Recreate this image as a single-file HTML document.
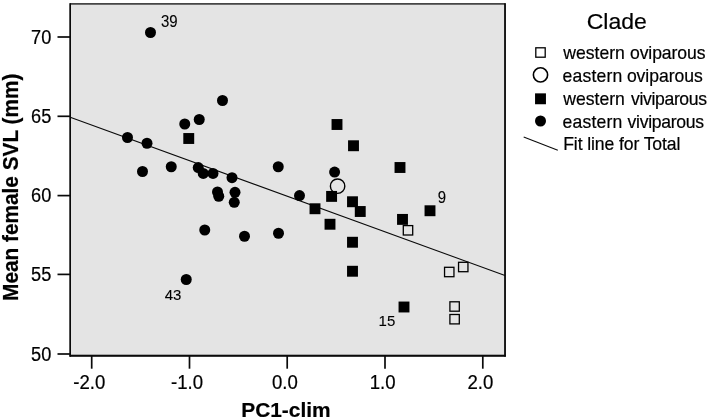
<!DOCTYPE html>
<html><head><meta charset="utf-8"><title>chart</title>
<style>
html,body{margin:0;padding:0;background:#fff;}
body{width:708px;height:420px;overflow:hidden;}
svg{display:block;will-change:transform;}
text{font-family:"Liberation Sans",sans-serif;fill:#000;stroke:#000;stroke-width:0.2px;}
.tk{font-size:18.6px;}
.lb{font-size:15px;stroke-width:0.1px;}
.lg{font-size:17.6px;}
.cl{font-size:23px;}
.ti{font-size:20.9px;font-weight:bold;}
</style></head><body>
<svg width="708" height="420" viewBox="0 0 708 420">
<rect x="0" y="0" width="708" height="420" fill="#fff"/>
<rect x="70.25" y="3.9" width="434.85" height="351.7" fill="#e4e4e4" stroke="#0a0a0a" stroke-width="1.3"/>
<line x1="69.5" y1="355.75" x2="505.85" y2="355.75" stroke="#0a0a0a" stroke-width="1.9"/>
<line x1="505.0" y1="3.3" x2="505.0" y2="356.7" stroke="#0a0a0a" stroke-width="1.5"/>
<line x1="70.25" y1="3.3" x2="70.25" y2="356.7" stroke="#0a0a0a" stroke-width="1.5"/>
<line x1="57.5" y1="37.0" x2="70" y2="37.0" stroke="#0a0a0a" stroke-width="1.7"/>
<text class="tk" style="font-size:18.2px" transform="translate(51.3,43.5) scale(1,1.08)" text-anchor="end">70</text>
<line x1="57.5" y1="116.3" x2="70" y2="116.3" stroke="#0a0a0a" stroke-width="1.7"/>
<text class="tk" style="font-size:18.2px" transform="translate(51.3,122.8) scale(1,1.08)" text-anchor="end">65</text>
<line x1="57.5" y1="195.6" x2="70" y2="195.6" stroke="#0a0a0a" stroke-width="1.7"/>
<text class="tk" style="font-size:18.2px" transform="translate(51.3,202.1) scale(1,1.08)" text-anchor="end">60</text>
<line x1="57.5" y1="274.4" x2="70" y2="274.4" stroke="#0a0a0a" stroke-width="1.7"/>
<text class="tk" style="font-size:18.2px" transform="translate(51.3,280.9) scale(1,1.08)" text-anchor="end">55</text>
<line x1="57.5" y1="354.0" x2="70" y2="354.0" stroke="#0a0a0a" stroke-width="1.7"/>
<text class="tk" style="font-size:18.2px" transform="translate(51.3,360.5) scale(1,1.08)" text-anchor="end">50</text>
<line x1="91.7" y1="355.5" x2="91.7" y2="368.7" stroke="#0a0a0a" stroke-width="1.7"/>
<text class="tk" transform="translate(89.3,388.7) scale(1,1.06)" text-anchor="middle">-2.0</text>
<line x1="189.5" y1="355.5" x2="189.5" y2="368.7" stroke="#0a0a0a" stroke-width="1.7"/>
<text class="tk" transform="translate(187.1,388.7) scale(1,1.06)" text-anchor="middle">-1.0</text>
<line x1="287.2" y1="355.5" x2="287.2" y2="368.7" stroke="#0a0a0a" stroke-width="1.7"/>
<text class="tk" transform="translate(284.8,388.7) scale(1,1.06)" text-anchor="middle">0.0</text>
<line x1="385.0" y1="355.5" x2="385.0" y2="368.7" stroke="#0a0a0a" stroke-width="1.7"/>
<text class="tk" transform="translate(382.6,388.7) scale(1,1.06)" text-anchor="middle">1.0</text>
<line x1="482.8" y1="355.5" x2="482.8" y2="368.7" stroke="#0a0a0a" stroke-width="1.7"/>
<text class="tk" transform="translate(480.4,388.7) scale(1,1.06)" text-anchor="middle">2.0</text>
<line x1="70.2" y1="117.2" x2="505" y2="275.5" stroke="#0a0a0a" stroke-width="1.05"/>
<circle cx="337.6" cy="186.2" r="7.2" fill="none" stroke="#000" stroke-width="1.4"/>
<circle cx="150.5" cy="32.5" r="5.5" fill="#000"/>
<circle cx="222.5" cy="100.5" r="5.5" fill="#000"/>
<circle cx="199.25" cy="119.5" r="5.5" fill="#000"/>
<circle cx="184.75" cy="124" r="5.5" fill="#000"/>
<circle cx="127.5" cy="137.5" r="5.5" fill="#000"/>
<circle cx="147" cy="143.25" r="5.5" fill="#000"/>
<circle cx="142.5" cy="171.5" r="5.5" fill="#000"/>
<circle cx="171.25" cy="166.75" r="5.5" fill="#000"/>
<circle cx="198.25" cy="167.6" r="5.5" fill="#000"/>
<circle cx="203.25" cy="173.4" r="5.5" fill="#000"/>
<circle cx="213" cy="173.4" r="5.5" fill="#000"/>
<circle cx="232" cy="177.7" r="5.5" fill="#000"/>
<circle cx="217.5" cy="192" r="5.5" fill="#000"/>
<circle cx="218.75" cy="196.25" r="5.5" fill="#000"/>
<circle cx="235" cy="192.3" r="5.5" fill="#000"/>
<circle cx="234.25" cy="202.3" r="5.5" fill="#000"/>
<circle cx="204.75" cy="230" r="5.5" fill="#000"/>
<circle cx="186.25" cy="279.5" r="5.5" fill="#000"/>
<circle cx="244.5" cy="236.25" r="5.5" fill="#000"/>
<circle cx="278.5" cy="233.25" r="5.5" fill="#000"/>
<circle cx="278.25" cy="166.75" r="5.5" fill="#000"/>
<circle cx="299.5" cy="195.6" r="5.5" fill="#000"/>
<circle cx="334.6" cy="172.1" r="5.5" fill="#000"/>
<rect x="183.30" y="133.05" width="10.9" height="10.9" fill="#000"/>
<rect x="331.55" y="119.05" width="10.9" height="10.9" fill="#000"/>
<rect x="348.05" y="140.30" width="10.9" height="10.9" fill="#000"/>
<rect x="394.55" y="162.05" width="10.9" height="10.9" fill="#000"/>
<rect x="326.15" y="190.95" width="10.9" height="10.9" fill="#000"/>
<rect x="309.55" y="203.30" width="10.9" height="10.9" fill="#000"/>
<rect x="324.55" y="218.80" width="10.9" height="10.9" fill="#000"/>
<rect x="347.05" y="196.30" width="10.9" height="10.9" fill="#000"/>
<rect x="354.80" y="206.05" width="10.9" height="10.9" fill="#000"/>
<rect x="347.05" y="236.80" width="10.9" height="10.9" fill="#000"/>
<rect x="347.05" y="265.80" width="10.9" height="10.9" fill="#000"/>
<rect x="424.55" y="205.30" width="10.9" height="10.9" fill="#000"/>
<rect x="397.05" y="213.95" width="10.9" height="10.9" fill="#000"/>
<rect x="398.55" y="301.55" width="10.9" height="10.9" fill="#000"/>
<rect x="403.30" y="225.60" width="9.4" height="9.4" fill="none" stroke="#000" stroke-width="1.3"/>
<rect x="444.55" y="267.30" width="9.4" height="9.4" fill="none" stroke="#000" stroke-width="1.3"/>
<rect x="458.55" y="262.30" width="9.4" height="9.4" fill="none" stroke="#000" stroke-width="1.3"/>
<rect x="449.90" y="301.80" width="9.4" height="9.4" fill="none" stroke="#000" stroke-width="1.3"/>
<rect x="449.90" y="314.50" width="9.4" height="9.4" fill="none" stroke="#000" stroke-width="1.3"/>
<text class="lb" transform="translate(160.9,26.9) scale(1,1.05)">39</text>
<text class="lb" transform="translate(164.7,300.3) scale(1,1.03)">43</text>
<text class="lb" transform="translate(437.8,203.0) scale(1,1.05)">9</text>
<text class="lb" transform="translate(378.6,325.8) scale(1,1.03)">15</text>
<text class="ti" transform="translate(285.9,417.4) scale(1,1.0)" text-anchor="middle">PC1-clim</text>
<text class="ti" style="font-size:20.8px" transform="translate(17.7,187.3) rotate(-90) scale(1,1.1)" text-anchor="middle">Mean female SVL (mm)</text>
<text class="cl" transform="translate(616.8,28.5) scale(1,0.98)" text-anchor="middle">Clade</text>
<text class="lg" transform="translate(563.3,58.9) scale(1,1.04)" textLength="61.5" lengthAdjust="spacing">western</text>
<text class="lg" transform="translate(630.0,58.9) scale(1,1.04)" textLength="75.5" lengthAdjust="spacing">oviparous</text>
<text class="lg" transform="translate(562.6,81.6) scale(1,1.04)" textLength="59.7" lengthAdjust="spacing">eastern</text>
<text class="lg" transform="translate(626.9,81.6) scale(1,1.04)" textLength="75.8" lengthAdjust="spacing">oviparous</text>
<text class="lg" transform="translate(563.3,104.6) scale(1,1.04)" textLength="61.5" lengthAdjust="spacing">western</text>
<text class="lg" transform="translate(631.1,104.6) scale(1,1.04)" textLength="75.9" lengthAdjust="spacing">viviparous</text>
<text class="lg" transform="translate(562.6,127.5) scale(1,1.04)" textLength="59.7" lengthAdjust="spacing">eastern</text>
<text class="lg" transform="translate(627.6,127.5) scale(1,1.04)" textLength="76.5" lengthAdjust="spacing">viviparous</text>
<text class="lg" transform="translate(563.2,150.2) scale(1,1.04)" textLength="117.2" lengthAdjust="spacing">Fit line for Total</text>
<rect x="535.80" y="47.80" width="9.4" height="9.4" fill="none" stroke="#000" stroke-width="1.3"/>
<circle cx="540.5" cy="74.9" r="7.1" fill="#fff" stroke="#000" stroke-width="1.6"/>
<rect x="535.05" y="93.35" width="10.9" height="10.9" fill="#000"/>
<circle cx="540.5" cy="121.0" r="5.5" fill="#000"/>
<line x1="523.7" y1="136.9" x2="557.8" y2="150.3" stroke="#0a0a0a" stroke-width="1.05"/>
</svg></body></html>
